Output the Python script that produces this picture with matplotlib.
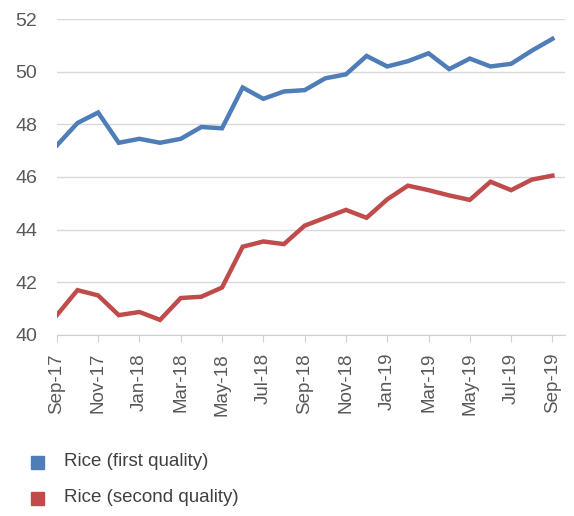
import numpy as np
import matplotlib.pyplot as plt
from matplotlib.patches import Rectangle

months = ['Sep-17', 'Oct-17', 'Nov-17', 'Dec-17', 'Jan-18', 'Feb-18', 'Mar-18', 'Apr-18',
          'May-18', 'Jun-18', 'Jul-18', 'Aug-18', 'Sep-18', 'Oct-18', 'Nov-18', 'Dec-18',
          'Jan-19', 'Feb-19', 'Mar-19', 'Apr-19', 'May-19', 'Jun-19', 'Jul-19', 'Aug-19',
          'Sep-19']
first_quality = [47.2, 48.05, 48.45, 47.3, 47.45, 47.3, 47.45, 47.9, 47.85, 49.4, 48.97, 49.25,
                 49.3, 49.75, 49.9, 50.6, 50.2, 50.4, 50.7, 50.1, 50.5, 50.2, 50.3, 50.8, 51.25]
second_quality = [40.75, 41.7, 41.5, 40.75, 40.87, 40.57, 41.4, 41.45, 41.8, 43.35, 43.55, 43.45,
                  44.15, 44.45, 44.75, 44.45, 45.15, 45.67, 45.5, 45.3, 45.13, 45.82, 45.5, 45.9, 46.05]
series_names = ['Rice (first quality)', 'Rice (second quality)']
colors = ['#4f7db8', '#bf4b4b']

plt.rcParams['font.family'] = ['Liberation Sans', 'DejaVu Sans']
fig = plt.figure(figsize=(5.74, 5.16), dpi=100)
ax = fig.add_axes([0.099, 0.351, 0.885, 0.612])

x = np.arange(len(months))
ax.plot(x, first_quality, color=colors[0], lw=3.2, solid_joinstyle='miter')
ax.plot(x, second_quality, color=colors[1], lw=3.2, solid_joinstyle='miter')

ax.set_ylim(40, 52)
ax.set_yticks(np.arange(40, 53, 2))
ax.set_xlim(0, 24.6)
ax.set_xticks(x[::2])
ax.set_xticklabels(months[::2], rotation=90)
ax.grid(axis='y', color='#d9d9d9', lw=1)
ax.set_axisbelow(True)
for s in ['top', 'right', 'left']:
    ax.spines[s].set_visible(False)
ax.spines['bottom'].set_color('#d0d0d0')
ax.tick_params(axis='y', length=0, pad=14, labelsize=14, labelcolor='#595959')
ax.tick_params(axis='x', length=5, color='#d0d0d0', pad=8, labelsize=13.5, labelcolor='#595959')

# legend below the chart
for i, name in enumerate(series_names):
    yy = 1 - (462 + 36 * i) / 516
    fig.patches.append(Rectangle((31 / 574, yy - 6.5 / 516), 13 / 574, 13 / 516,
                                 transform=fig.transFigure, color=colors[i]))
    fig.text(64 / 574, yy, name, fontsize=13.5, color='#404040', va='center')

fig.savefig('out.png', dpi=100, facecolor='white')
